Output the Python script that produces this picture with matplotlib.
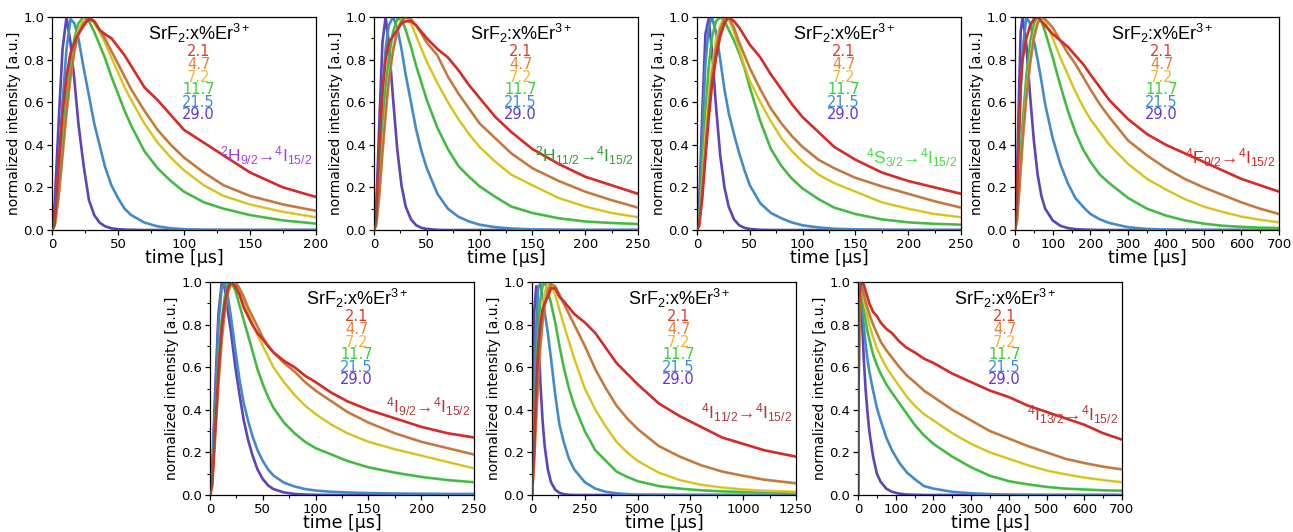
import numpy as np
import matplotlib.pyplot as plt
from matplotlib.ticker import MultipleLocator

plt.rcParams["font.family"] = ["DejaVu Sans"]
plt.rcParams["mathtext.fontset"] = "custom"
plt.rcParams["mathtext.rm"] = "Liberation Sans"
plt.rcParams["mathtext.it"] = "Liberation Sans:italic"
plt.rcParams["mathtext.default"] = "regular"
ARIAL = ["Liberation Sans", "DejaVu Sans"]

# Er3+ concentrations (legend), same order as the curves in every panel
conc = ["2.1", "4.7", "7.2", "11.7", "21.5", "29.0"]
line_colors = ["#e4221e", "#d27c3a", "#e8d228", "#40c640", "#3f8fd6", "#5d3fc4"]
text_colors = ["#e03a2a", "#ec8034", "#f4b630", "#34d434", "#3a8ee0", "#6234e0"]

# ---- 2H9/2 -> 4I15/2
t_h92 = [0, 2, 5, 8, 11, 14, 17, 20, 24, 28, 32, 36, 40, 45, 50, 55, 60, 70, 80, 90, 100, 115, 130, 150, 175, 200]
y_h92 = [
    [0, 0.03, 0.3, 0.55, 0.72, 0.83, 0.88, 0.92, 0.96, 0.99, 0.98, 0.94, 0.92, 0.9, 0.86, 0.82, 0.77, 0.67, 0.61, 0.54, 0.47, 0.41, 0.35, 0.27, 0.2, 0.155],
    [0, 0.02, 0.15, 0.35, 0.55, 0.72, 0.84, 0.92, 0.97, 1.0, 0.98, 0.94, 0.9, 0.84, 0.78, 0.72, 0.66, 0.56, 0.47, 0.4, 0.34, 0.27, 0.21, 0.16, 0.12, 0.09],
    [0, 0.02, 0.17, 0.37, 0.56, 0.72, 0.85, 0.94, 0.99, 1.0, 0.97, 0.93, 0.88, 0.81, 0.74, 0.67, 0.61, 0.5, 0.41, 0.34, 0.28, 0.21, 0.16, 0.12, 0.085, 0.06],
    [0, 0.02, 0.2, 0.42, 0.62, 0.78, 0.9, 0.97, 1.0, 0.98, 0.93, 0.87, 0.81, 0.72, 0.64, 0.56, 0.49, 0.37, 0.29, 0.23, 0.18, 0.13, 0.1, 0.07, 0.045, 0.03],
    [0, 0.03, 0.3, 0.6, 0.85, 0.99, 0.97, 0.9, 0.76, 0.63, 0.5, 0.4, 0.3, 0.21, 0.15, 0.1, 0.07, 0.035, 0.017, 0.008, 0.004, 0.001, 0, 0, 0, 0],
    [0, 0.12, 0.5, 0.85, 1.0, 0.88, 0.7, 0.5, 0.3, 0.14, 0.07, 0.035, 0.018, 0.008, 0.004, 0.002, 0.001, 0, 0, 0, 0, 0, 0, 0, 0, 0],
]

# ---- 2H11/2 -> 4I15/2
t_h112 = [0, 2, 5, 8, 11, 14, 18, 22, 26, 30, 35, 40, 45, 50, 60, 70, 80, 90, 100, 115, 130, 150, 175, 200, 225, 250]
y_h112 = [
    [0, 0.05, 0.4, 0.65, 0.8, 0.88, 0.91, 0.94, 0.97, 0.98, 0.98, 0.96, 0.93, 0.9, 0.85, 0.81, 0.75, 0.68, 0.62, 0.53, 0.46, 0.38, 0.31, 0.25, 0.21, 0.17],
    [0, 0.02, 0.16, 0.36, 0.54, 0.7, 0.84, 0.93, 0.98, 1.0, 0.99, 0.96, 0.92, 0.88, 0.82, 0.72, 0.64, 0.57, 0.5, 0.43, 0.36, 0.29, 0.23, 0.18, 0.14, 0.105],
    [0, 0.02, 0.18, 0.38, 0.56, 0.71, 0.85, 0.94, 0.99, 1.0, 0.97, 0.91, 0.85, 0.79, 0.69, 0.6, 0.52, 0.45, 0.39, 0.32, 0.26, 0.21, 0.15, 0.11, 0.08, 0.06],
    [0, 0.03, 0.25, 0.48, 0.67, 0.81, 0.93, 0.99, 0.99, 0.94, 0.86, 0.77, 0.69, 0.61, 0.48, 0.38, 0.3, 0.25, 0.205, 0.155, 0.11, 0.08, 0.055, 0.04, 0.033, 0.028],
    [0, 0.04, 0.35, 0.65, 0.85, 0.96, 1.0, 0.95, 0.85, 0.73, 0.6, 0.47, 0.37, 0.29, 0.17, 0.1, 0.062, 0.04, 0.025, 0.013, 0.007, 0.003, 0.001, 0, 0, 0],
    [0, 0.08, 0.5, 0.88, 1.0, 0.88, 0.62, 0.38, 0.21, 0.11, 0.05, 0.022, 0.01, 0.005, 0.001, 0, 0, 0, 0, 0, 0, 0, 0, 0, 0, 0],
]

# ---- 4S3/2 -> 4I15/2
t_s32 = [0, 2, 5, 8, 11, 14, 18, 22, 26, 30, 35, 40, 45, 50, 60, 70, 80, 90, 100, 115, 130, 150, 175, 200, 225, 250]
y_s32 = [
    [0, 0.02, 0.15, 0.34, 0.52, 0.67, 0.81, 0.91, 0.97, 1.0, 0.98, 0.95, 0.91, 0.87, 0.81, 0.73, 0.66, 0.59, 0.53, 0.46, 0.39, 0.33, 0.27, 0.23, 0.2, 0.17],
    [0, 0.02, 0.18, 0.38, 0.56, 0.71, 0.85, 0.94, 0.99, 1.0, 0.95, 0.88, 0.82, 0.76, 0.66, 0.57, 0.5, 0.44, 0.39, 0.33, 0.29, 0.245, 0.205, 0.17, 0.135, 0.105],
    [0, 0.03, 0.22, 0.44, 0.62, 0.76, 0.89, 0.96, 1.0, 0.99, 0.93, 0.85, 0.77, 0.7, 0.6, 0.51, 0.43, 0.37, 0.32, 0.26, 0.22, 0.18, 0.13, 0.1, 0.075, 0.06],
    [0, 0.04, 0.3, 0.55, 0.76, 0.9, 0.98, 1.0, 0.98, 0.94, 0.89, 0.83, 0.76, 0.67, 0.51, 0.38, 0.3, 0.24, 0.195, 0.145, 0.105, 0.075, 0.05, 0.036, 0.029, 0.025],
    [0, 0.06, 0.45, 0.78, 0.95, 1.0, 0.93, 0.8, 0.66, 0.55, 0.45, 0.36, 0.28, 0.21, 0.125, 0.08, 0.055, 0.035, 0.022, 0.012, 0.006, 0.003, 0.001, 0, 0, 0],
    [0, 0.1, 0.55, 0.92, 0.99, 0.85, 0.58, 0.35, 0.2, 0.11, 0.05, 0.022, 0.01, 0.005, 0.001, 0, 0, 0, 0, 0, 0, 0, 0, 0, 0, 0],
]

# ---- 4F9/2 -> 4I15/2
t_f92 = [0, 5, 10, 15, 20, 30, 40, 50, 60, 70, 80, 100, 120, 140, 160, 180, 200, 225, 250, 300, 350, 400, 450, 500, 550, 600, 650, 700]
y_f92 = [
    [0, 0.15, 0.45, 0.68, 0.8, 0.9, 0.96, 0.99, 1.0, 0.98, 0.96, 0.92, 0.89, 0.86, 0.82, 0.78, 0.73, 0.67, 0.61, 0.52, 0.45, 0.4, 0.36, 0.32, 0.28, 0.24, 0.21, 0.18],
    [0, 0.04, 0.15, 0.28, 0.41, 0.62, 0.78, 0.9, 0.97, 1.0, 0.99, 0.95, 0.89, 0.83, 0.78, 0.72, 0.66, 0.59, 0.53, 0.42, 0.35, 0.29, 0.24, 0.2, 0.165, 0.13, 0.1, 0.075],
    [0, 0.04, 0.16, 0.3, 0.43, 0.64, 0.8, 0.92, 0.98, 1.0, 0.98, 0.9, 0.81, 0.73, 0.65, 0.58, 0.52, 0.46, 0.4, 0.31, 0.24, 0.19, 0.145, 0.11, 0.085, 0.063, 0.048, 0.036],
    [0, 0.05, 0.2, 0.36, 0.5, 0.72, 0.88, 0.97, 1.0, 0.98, 0.93, 0.81, 0.68, 0.56, 0.46, 0.38, 0.32, 0.26, 0.22, 0.15, 0.1, 0.068, 0.045, 0.03, 0.02, 0.015, 0.011, 0.009],
    [0, 0.1, 0.38, 0.64, 0.84, 1.0, 0.97, 0.89, 0.8, 0.7, 0.59, 0.43, 0.31, 0.22, 0.15, 0.11, 0.075, 0.05, 0.033, 0.013, 0.005, 0.002, 0.001, 0, 0, 0, 0, 0],
    [0, 0.2, 0.6, 0.93, 1.0, 0.87, 0.63, 0.42, 0.26, 0.16, 0.1, 0.045, 0.02, 0.009, 0.004, 0.002, 0.001, 0, 0, 0, 0, 0, 0, 0, 0, 0, 0, 0],
]

# ---- 4I9/2 -> 4I15/2
t_i92 = [0, 2, 5, 8, 11, 14, 17, 20, 24, 28, 32, 36, 40, 45, 50, 55, 60, 70, 80, 90, 100, 115, 130, 150, 175, 200, 225, 250]
y_i92 = [
    [0, 0.05, 0.32, 0.58, 0.78, 0.9, 0.97, 1.0, 0.98, 0.94, 0.88, 0.84, 0.8, 0.76, 0.73, 0.7, 0.67, 0.63, 0.6, 0.56, 0.53, 0.48, 0.44, 0.4, 0.36, 0.32, 0.29, 0.27],
    [0, 0.04, 0.28, 0.52, 0.72, 0.86, 0.95, 0.99, 1.0, 0.97, 0.93, 0.88, 0.84, 0.79, 0.74, 0.7, 0.67, 0.62, 0.58, 0.53, 0.49, 0.44, 0.39, 0.34, 0.29, 0.25, 0.22, 0.19],
    [0, 0.04, 0.3, 0.55, 0.75, 0.88, 0.96, 0.99, 1.0, 0.96, 0.91, 0.86, 0.81, 0.75, 0.7, 0.65, 0.6, 0.53, 0.47, 0.42, 0.38, 0.33, 0.29, 0.25, 0.215, 0.185, 0.155, 0.125],
    [0, 0.05, 0.35, 0.62, 0.82, 0.93, 0.99, 1.0, 0.96, 0.89, 0.82, 0.75, 0.68, 0.59, 0.52, 0.46, 0.41, 0.34, 0.29, 0.25, 0.22, 0.19, 0.16, 0.13, 0.105, 0.085, 0.07, 0.06],
    [0, 0.08, 0.45, 0.8, 0.97, 1.0, 0.93, 0.83, 0.68, 0.54, 0.43, 0.35, 0.28, 0.21, 0.16, 0.12, 0.092, 0.058, 0.04, 0.028, 0.021, 0.015, 0.012, 0.009, 0.007, 0.006, 0.005, 0.005],
    [0, 0.1, 0.5, 0.85, 0.99, 0.97, 0.86, 0.76, 0.6, 0.47, 0.35, 0.26, 0.19, 0.12, 0.075, 0.045, 0.028, 0.012, 0.005, 0.002, 0.001, 0, 0, 0, 0, 0, 0, 0],
]

# ---- 4I11/2 -> 4I15/2
t_i112 = [0, 10, 20, 30, 40, 50, 60, 75, 90, 110, 130, 150, 175, 200, 250, 300, 350, 400, 450, 500, 600, 700, 800, 900, 1000, 1100, 1250]
y_i112 = [
    [0, 0.2, 0.5, 0.7, 0.8, 0.87, 0.9, 0.93, 0.97, 0.97, 0.93, 0.91, 0.88, 0.85, 0.81, 0.76, 0.69, 0.62, 0.57, 0.52, 0.43, 0.37, 0.32, 0.27, 0.24, 0.21, 0.18],
    [0, 0.15, 0.36, 0.55, 0.7, 0.81, 0.89, 0.96, 0.99, 0.98, 0.94, 0.9, 0.85, 0.8, 0.7, 0.59, 0.5, 0.42, 0.36, 0.31, 0.23, 0.18, 0.14, 0.11, 0.09, 0.072, 0.055],
    [0, 0.18, 0.42, 0.63, 0.78, 0.88, 0.95, 0.99, 0.99, 0.94, 0.87, 0.8, 0.72, 0.64, 0.5, 0.4, 0.32, 0.25, 0.2, 0.16, 0.105, 0.07, 0.048, 0.035, 0.026, 0.02, 0.015],
    [0, 0.25, 0.55, 0.78, 0.92, 0.98, 1.0, 0.96, 0.9, 0.81, 0.7, 0.6, 0.5, 0.42, 0.3, 0.21, 0.16, 0.11, 0.085, 0.065, 0.042, 0.03, 0.022, 0.017, 0.014, 0.012, 0.01],
    [0, 0.4, 0.8, 0.98, 0.99, 0.93, 0.86, 0.76, 0.64, 0.47, 0.33, 0.25, 0.17, 0.12, 0.06, 0.03, 0.015, 0.008, 0.004, 0.002, 0.001, 0, 0, 0, 0, 0, 0],
    [0, 0.85, 0.98, 0.77, 0.52, 0.35, 0.23, 0.12, 0.06, 0.025, 0.01, 0.004, 0.001, 0, 0, 0, 0, 0, 0, 0, 0, 0, 0, 0, 0, 0, 0],
]

# ---- 4I13/2 -> 4I15/2
t_i132 = [0, 3, 6, 10, 15, 20, 25, 30, 40, 50, 60, 75, 90, 110, 130, 150, 175, 200, 250, 300, 350, 400, 450, 500, 550, 600, 650, 700]
y_i132 = [
    [0, 0.9, 0.98, 1.0, 0.99, 0.96, 0.93, 0.9, 0.86, 0.84, 0.81, 0.78, 0.76, 0.72, 0.69, 0.67, 0.64, 0.62, 0.57, 0.53, 0.49, 0.46, 0.42, 0.39, 0.36, 0.33, 0.29, 0.26],
    [0, 0.93, 1.0, 0.98, 0.95, 0.91, 0.88, 0.85, 0.8, 0.76, 0.72, 0.68, 0.645, 0.6, 0.56, 0.53, 0.49, 0.46, 0.4, 0.35, 0.3, 0.265, 0.23, 0.2, 0.17, 0.15, 0.133, 0.12],
    [0, 0.93, 1.0, 0.97, 0.92, 0.88, 0.84, 0.8, 0.74, 0.69, 0.65, 0.6, 0.56, 0.51, 0.46, 0.42, 0.38, 0.35, 0.29, 0.24, 0.2, 0.17, 0.14, 0.115, 0.097, 0.082, 0.07, 0.06],
    [0, 0.92, 1.0, 0.95, 0.88, 0.82, 0.77, 0.73, 0.66, 0.61, 0.57, 0.52, 0.48, 0.43, 0.38, 0.33, 0.28, 0.24, 0.18, 0.13, 0.09, 0.065, 0.05, 0.038, 0.03, 0.026, 0.022, 0.02],
    [0, 0.9, 1.0, 0.9, 0.8, 0.71, 0.64, 0.58, 0.49, 0.41, 0.35, 0.27, 0.21, 0.15, 0.105, 0.075, 0.042, 0.03, 0.015, 0.008, 0.004, 0.002, 0.001, 0, 0, 0, 0, 0],
    [0, 0.9, 1.0, 0.85, 0.65, 0.5, 0.39, 0.3, 0.18, 0.1, 0.062, 0.03, 0.015, 0.006, 0.002, 0.001, 0, 0, 0, 0, 0, 0, 0, 0, 0, 0, 0, 0],
]

labels = [
    r"$^{2}$H$_{9/2}$→$^{4}$I$_{15/2}$",
    r"$^{2}$H$_{11/2}$→$^{4}$I$_{15/2}$",
    r"$^{4}$S$_{3/2}$→$^{4}$I$_{15/2}$",
    r"$^{4}$F$_{9/2}$→$^{4}$I$_{15/2}$",
    r"$^{4}$I$_{9/2}$→$^{4}$I$_{15/2}$",
    r"$^{4}$I$_{11/2}$→$^{4}$I$_{15/2}$",
    r"$^{4}$I$_{13/2}$→$^{4}$I$_{15/2}$",
]
label_colors = ["#a43ee8", "#2fa032", "#3ee23e", "#e42222", "#b03838", "#b03838", "#b03838"]

# layout: left px, bottom-edge px, xmax, major, minor, label y (axes frac)
W, H = 1293, 532
panels = [
    (t_h92, y_h92, 52, 230, 200, 50, 25, 0.35),
    (t_h112, y_h112, 374, 230, 250, 50, 25, 0.35),
    (t_s32, y_s32, 697, 230, 250, 50, 25, 0.34),
    (t_f92, y_f92, 1015, 230, 700, 100, 50, 0.34),
    (t_i92, y_i92, 210, 495, 250, 50, 25, 0.415),
    (t_i112, y_i112, 532, 495, 1250, 250, 125, 0.385),
    (t_i132, y_i132, 858, 495, 700, 100, 50, 0.375),
]

fig = plt.figure(figsize=(W / 100, H / 100), dpi=100)

for k, (t, ys, lpx, bpx, xmax, major, minor, ly) in enumerate(panels):
    ax = fig.add_axes([lpx / W, 1 - bpx / H, 264 / W, 213 / H])
    for i in range(5, -1, -1):
        ax.plot(t, ys[i], color=line_colors[i], lw=1.9, zorder=2 + (5 - i) * 0.1)
        ax.plot(t, ys[i], color="#6a6a6a", lw=0.5, alpha=0.35, zorder=3)
    ax.set_xlim(0, xmax)
    ax.set_ylim(0, 1)
    ax.xaxis.set_major_locator(MultipleLocator(major))
    ax.xaxis.set_minor_locator(MultipleLocator(minor))
    ax.yaxis.set_major_locator(MultipleLocator(0.2))
    ax.yaxis.set_minor_locator(MultipleLocator(0.1))
    ax.yaxis.set_major_formatter(plt.FormatStrFormatter("%.1f"))
    ax.tick_params(which="major", direction="out", length=3.5, width=0.9, labelsize=9.5, pad=2)
    ax.tick_params(which="minor", direction="out", length=2, width=0.8)
    for s in ax.spines.values():
        s.set_linewidth(0.9)
    ax.set_xlabel("time [µs]", fontsize=12.5, labelpad=-1)
    ax.set_ylabel("normalized intensity [a.u.]", fontsize=10, labelpad=2)

    ax.text(0.56, 0.975, r"SrF$_2$:x%Er$^{3+}$", transform=ax.transAxes,
            ha="center", va="top", fontsize=13, family=ARIAL)
    for i, c in enumerate(conc):
        ax.text(0.555, 0.836 - 0.059 * i, c, transform=ax.transAxes, ha="center",
                va="center", fontsize=10.5, color=text_colors[i])
    ax.text(0.985, ly, labels[k], transform=ax.transAxes, ha="right", va="center",
            fontsize=12.5, color=label_colors[k], family=ARIAL)

fig.savefig("out.png", dpi=100)
